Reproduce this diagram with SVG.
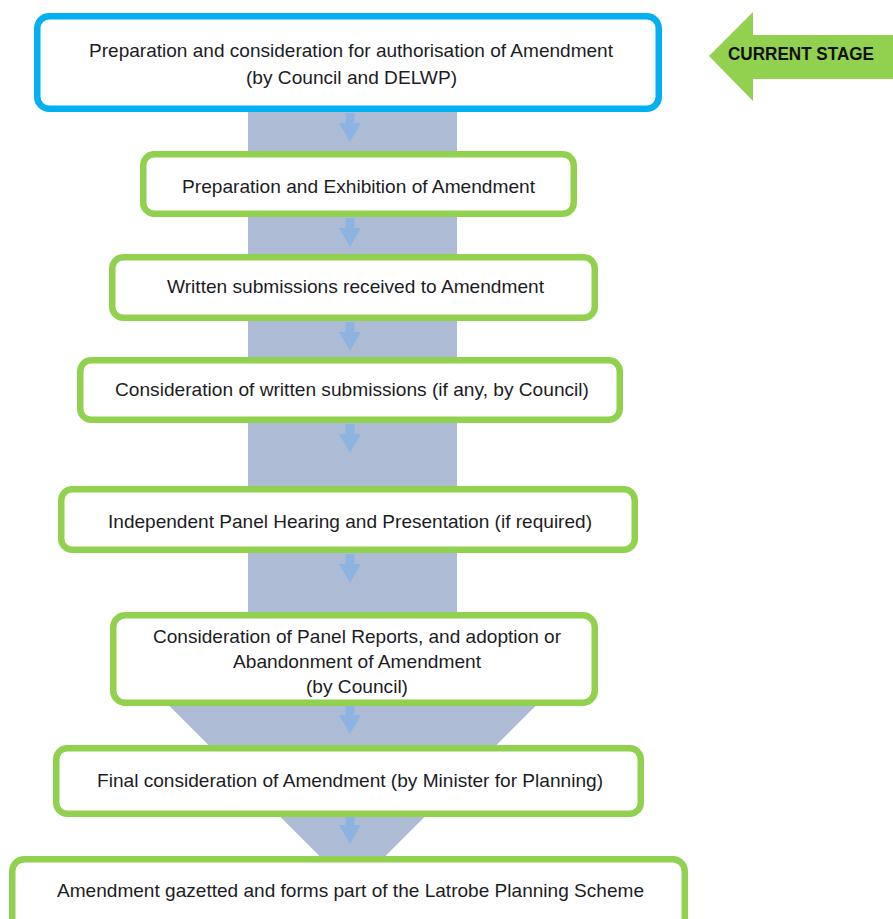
<svg xmlns="http://www.w3.org/2000/svg" width="893" height="919" viewBox="0 0 893 919">
  <style>
    .box { fill: #ffffff; stroke: #92d050; stroke-width: 6.5; }
    .box.current { stroke: #00b0f0; }
    .lbl { font-family: "Liberation Sans", Arial, sans-serif; font-size: 19px; fill: #1c1c24; text-anchor: middle; }
    .flow { fill: #adbcd4; }
    .step { fill: #8db3e2; }
    .tag { font-family: "Liberation Sans", Arial, sans-serif; font-size: 18px; font-weight: bold; fill: #111111; }
  </style>
  <defs>
    <path id="smallArrow" d="M -4.5 0 L 4.5 0 L 4.5 10 L 11 10 L 0 29 L -11 10 L -4.5 10 Z"/>
  </defs>

  <!-- background flow arrow -->
  <g id="flow">
    <path class="flow" d="M 248 100 L 457 100 L 457 650 L 591.5 650 L 352.5 889 L 113.5 650 L 248 650 Z"/>
  </g>

  <!-- connectors -->
  <g id="connectors">
    <use href="#smallArrow" class="step" x="350" y="113"/>
    <use href="#smallArrow" class="step" x="350" y="218"/>
    <use href="#smallArrow" class="step" x="350" y="322"/>
    <use href="#smallArrow" class="step" x="350" y="424"/>
    <use href="#smallArrow" class="step" x="350" y="554"/>
    <use href="#smallArrow" class="step" x="350" y="705"/>
    <use href="#smallArrow" class="step" x="350" y="815"/>
  </g>

  <g id="node1">
    <rect class="box current" x="37.25" y="16.25" width="621.5" height="92.5" rx="12"/>
    <text class="lbl" x="351" y="57" textLength="524" lengthAdjust="spacingAndGlyphs">Preparation and consideration for authorisation of Amendment</text>
    <text class="lbl" x="351.5" y="84" textLength="211" lengthAdjust="spacingAndGlyphs">(by Council and DELWP)</text>
  </g>

  <g id="node2">
    <rect class="box" x="143.25" y="154.25" width="430.5" height="59.5" rx="11"/>
    <text class="lbl" x="358.5" y="193" textLength="353" lengthAdjust="spacingAndGlyphs">Preparation and Exhibition of Amendment</text>
  </g>

  <g id="node3">
    <rect class="box" x="112.25" y="257.25" width="482.5" height="60.5" rx="11"/>
    <text class="lbl" x="355.5" y="293" textLength="377" lengthAdjust="spacingAndGlyphs">Written submissions received to Amendment</text>
  </g>

  <g id="node4">
    <rect class="box" x="80.25" y="360.25" width="539.5" height="59.5" rx="11"/>
    <text class="lbl" x="352" y="396" textLength="474" lengthAdjust="spacingAndGlyphs">Consideration of written submissions (if any, by Council)</text>
  </g>

  <g id="node5">
    <rect class="box" x="61.25" y="489.25" width="573.5" height="60.5" rx="11"/>
    <text class="lbl" x="350" y="528" textLength="484" lengthAdjust="spacingAndGlyphs">Independent Panel Hearing and Presentation (if required)</text>
  </g>

  <g id="node6">
    <rect class="box" x="113.25" y="615.25" width="481.5" height="87.5" rx="12"/>
    <text class="lbl" x="357" y="643" textLength="408" lengthAdjust="spacingAndGlyphs">Consideration of Panel Reports, and adoption or</text>
    <text class="lbl" x="357" y="668" textLength="248" lengthAdjust="spacingAndGlyphs">Abandonment of Amendment</text>
    <text class="lbl" x="357" y="693" textLength="102" lengthAdjust="spacingAndGlyphs">(by Council)</text>
  </g>

  <g id="node7">
    <rect class="box" x="56.25" y="748.25" width="584.5" height="65.5" rx="11"/>
    <text class="lbl" x="350" y="787" textLength="506" lengthAdjust="spacingAndGlyphs">Final consideration of Amendment (by Minister for Planning)</text>
  </g>

  <g id="node8">
    <rect class="box" x="12.25" y="859.25" width="672.5" height="80" rx="12"/>
    <text class="lbl" x="350.5" y="897" textLength="587" lengthAdjust="spacingAndGlyphs">Amendment gazetted and forms part of the Latrobe Planning Scheme</text>
  </g>

  <g id="current-stage">
    <path fill="#92d050" d="M 709 56 L 753 12 L 753 35 L 893 35 L 893 79 L 753 79 L 753 101 Z"/>
    <text class="tag" x="728" y="60" textLength="146" lengthAdjust="spacingAndGlyphs">CURRENT STAGE</text>
  </g>
</svg>
